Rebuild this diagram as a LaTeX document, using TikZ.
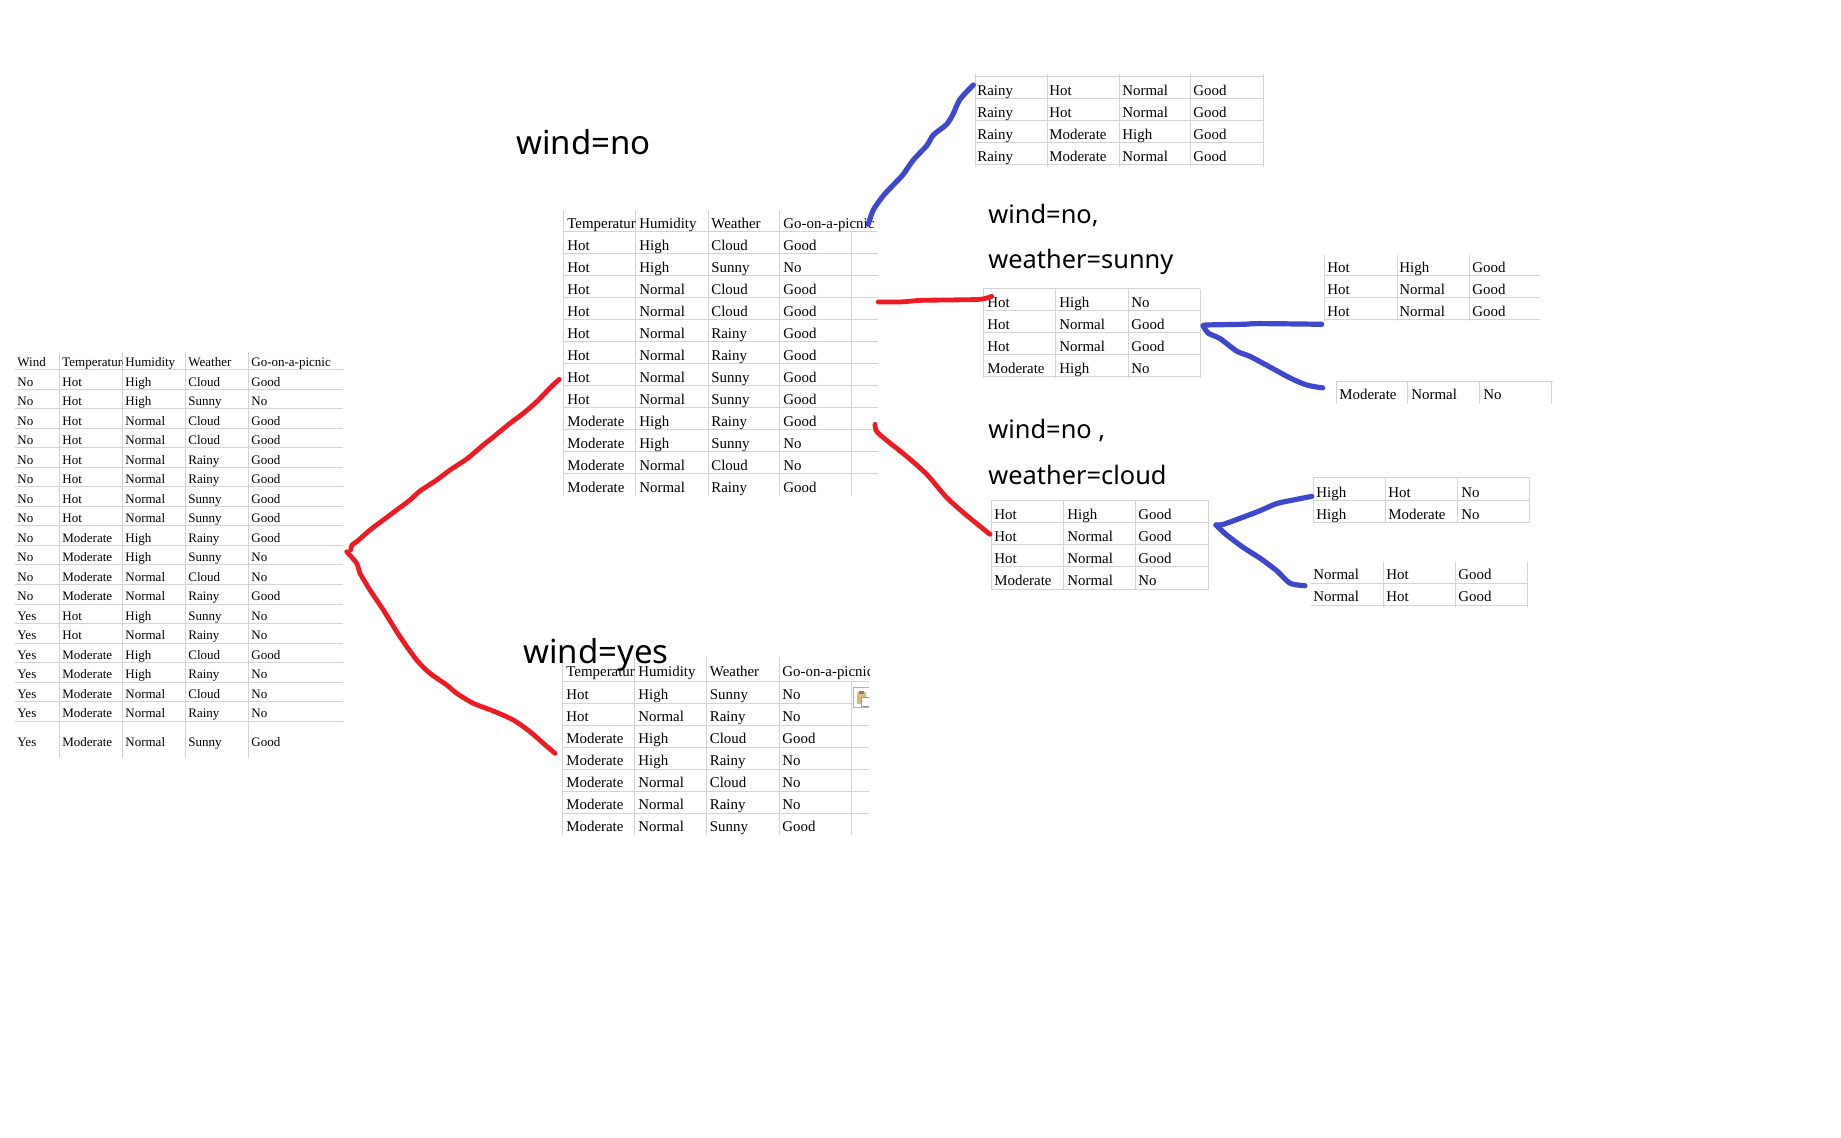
\documentclass[tikz,border=0pt]{standalone}
\usepackage{fontspec}
\setmainfont{Liberation Serif}
\newfontfamily\labfont{Noto Sans}
\definecolor{gridc}{RGB}{212,212,212}
\definecolor{penred}{RGB}{237,28,36}
\definecolor{penblue}{RGB}{63,72,204}
\definecolor{cliptan}{RGB}{222,184,120}
\begin{document}
\begin{tikzpicture}[x=0.5pt,y=-0.5pt,
  lcell/.style={anchor=base west, inner sep=0pt, font=\fontsize{6.5}{7}\selectfont},
  cell/.style={anchor=base west, inner sep=0pt, font=\fontsize{7.45}{8}\selectfont},
  biglabel/.style={anchor=base west, inner sep=0pt, font=\labfont\fontsize{16.5}{18}\selectfont},
  sublabel/.style={anchor=base west, inner sep=0pt, font=\labfont\fontsize{12.7}{15}\selectfont},
  gridline/.style={draw=gridc, line width=0.5pt},
  redpen/.style={draw=penred, line width=2.4pt, line cap=round, line join=round},
  bluepen/.style={draw=penblue, line width=2.6pt, line cap=round, line join=round}]
\useasboundingbox (0,0) rectangle (1841,1138);
\fill[white] (0,0) rectangle (1841,1138);

% ---------- left table ----------
\foreach \x in {59,122,185,248} \draw[gridline] (\x,352) -- (\x,758);
\foreach \k in {0,...,18} {\pgfmathsetmacro{\yy}{370+19.5*\k}
  \draw[gridline] (15,\yy) -- (343,\yy);}
\node[lcell] (Lh1) at (17,366.7) {Wind};
\begin{scope}\clip (59,350) rectangle (122,372);
\node[lcell] (Lh2) at (62,366.7) {Temperature};\end{scope}
\node[lcell] (Lh3) at (125,366.7) {Humidity};
\node[lcell] (Lh4) at (188,366.7) {Weather};
\node[lcell] (Lh5) at (251,366.7) {Go-on-a-picnic};
\foreach \ka/\kb/\kc/\kd/\ke [count=\r] in {
 No/Hot/High/Cloud/Good, No/Hot/High/Sunny/No, No/Hot/Normal/Cloud/Good,
 No/Hot/Normal/Cloud/Good, No/Hot/Normal/Rainy/Good, No/Hot/Normal/Rainy/Good,
 No/Hot/Normal/Sunny/Good, No/Hot/Normal/Sunny/Good, No/Moderate/High/Rainy/Good,
 No/Moderate/High/Sunny/No, No/Moderate/Normal/Cloud/No, No/Moderate/Normal/Rainy/Good,
 Yes/Hot/High/Sunny/No, Yes/Hot/Normal/Rainy/No, Yes/Moderate/High/Cloud/Good,
 Yes/Moderate/High/Rainy/No, Yes/Moderate/Normal/Cloud/No, Yes/Moderate/Normal/Rainy/No}{
 \pgfmathsetmacro{\yb}{370+19.5*\r-3.3}
 \node[lcell] (L\r-a) at (17,\yb) {\ka};
 \node[lcell] (L\r-b) at (62,\yb) {\kb};
 \node[lcell] (L\r-c) at (125,\yb) {\kc};
 \node[lcell] (L\r-d) at (188,\yb) {\kd};
 \node[lcell] (L\r-e) at (251,\yb) {\ke};}
\node[lcell] (L19-a) at (17,746.7) {Yes};
\node[lcell] (L19-b) at (62,746.7) {Moderate};
\node[lcell] (L19-c) at (125,746.7) {Normal};
\node[lcell] (L19-d) at (188,746.7) {Sunny};
\node[lcell] (L19-e) at (251,746.7) {Good};

% ---------- middle top table (wind=no) ----------
\foreach \x in {563,635,708,779} \draw[gridline] (\x,210) -- (\x,496);
\draw[gridline] (851,232) -- (851,496);
\foreach \k in {0,...,11} {\pgfmathsetmacro{\yy}{232+22*\k}
  \draw[gridline] (563,\yy) -- (878,\yy);}
\begin{scope}\clip (563,205) rectangle (635,234);
\node[cell] (Mh1) at (567,228.5) {Temperature};\end{scope}
\node[cell] (Mh2) at (639,228.5) {Humidity};
\node[cell] (Mh3) at (711,228.5) {Weather};
\begin{scope}\clip (779,205) rectangle (878,234);
\node[cell] (Mh4) at (783,228.5) {Go-on-a-picnic};\end{scope}
\foreach \ka/\kb/\kc/\kd [count=\r] in {
 Hot/High/Cloud/Good, Hot/High/Sunny/No, Hot/Normal/Cloud/Good, Hot/Normal/Cloud/Good,
 Hot/Normal/Rainy/Good, Hot/Normal/Rainy/Good, Hot/Normal/Sunny/Good, Hot/Normal/Sunny/Good,
 Moderate/High/Rainy/Good, Moderate/High/Sunny/No, Moderate/Normal/Cloud/No, Moderate/Normal/Rainy/Good}{
 \pgfmathsetmacro{\yb}{232+22*\r-3.5}
 \node[cell] (M\r-a) at (567,\yb) {\ka};
 \node[cell] (M\r-b) at (639,\yb) {\kb};
 \node[cell] (M\r-c) at (711,\yb) {\kc};
 \node[cell] (M\r-d) at (783,\yb) {\kd};}

% ---------- bottom table (wind=yes) ----------
\foreach \x in {562,634,706,779} \draw[gridline] (\x,657) -- (\x,835);
\draw[gridline] (851,681) -- (851,835);
\foreach \k in {0,...,6} {\pgfmathsetmacro{\yy}{681+22*\k}
  \draw[gridline] (562,\yy) -- (869,\yy);}
\begin{scope}\clip (562,650) rectangle (634,683);
\node[cell] (Bh1) at (566,676.5) {Temperature};\end{scope}
\node[cell] (Bh2) at (638,676.5) {Humidity};
\node[cell] (Bh3) at (709.5,676.5) {Weather};
\begin{scope}\clip (779,650) rectangle (869,683);
\node[cell] (Bh4) at (782,676.5) {Go-on-a-picnic};\end{scope}
\foreach \ka/\kb/\kc/\kd [count=\r] in {
 Hot/High/Sunny/No, Hot/Normal/Rainy/No, Moderate/High/Cloud/Good, Moderate/High/Rainy/No,
 Moderate/Normal/Cloud/No, Moderate/Normal/Rainy/No, Moderate/Normal/Sunny/Good}{
 \pgfmathsetmacro{\yb}{681+22*\r-3.5}
 \node[cell] (B\r-a) at (566,\yb) {\ka};
 \node[cell] (B\r-b) at (638,\yb) {\kb};
 \node[cell] (B\r-c) at (709.5,\yb) {\kc};
 \node[cell] (B\r-d) at (782,\yb) {\kd};}
% paste-options icon
\begin{scope}\clip (850,684) rectangle (869,710);
\draw[gray!60, fill=white, line width=0.5pt] (853.5,687.5) rectangle (876,707);
\fill[cliptan] (857,692) rectangle (866,704);
\fill[gray] (859,690.5) rectangle (864,693.5);
\draw[gray!80, fill=white, line width=0.5pt] (861.5,697) rectangle (872,706);
\end{scope}

% ---------- top right table (rainy) ----------
\foreach \x in {975,1047,1119,1190,1263} \draw[gridline] (\x,74) -- (\x,167);
\foreach \y in {77,99,121,143,165} \draw[gridline] (975,\y) -- (1263,\y);
\foreach \ka/\kb/\kc/\kd [count=\r] in {
 Rainy/Hot/Normal/Good, Rainy/Hot/Normal/Good, Rainy/Moderate/High/Good, Rainy/Moderate/Normal/Good}{
 \pgfmathsetmacro{\yb}{77+22*\r-3.5}
 \node[cell] (R\r-a) at (977,\yb) {\ka};
 \node[cell] (R\r-b) at (1049,\yb) {\kb};
 \node[cell] (R\r-c) at (1122,\yb) {\kc};
 \node[cell] (R\r-d) at (1193,\yb) {\kd};}

% ---------- sunny table ----------
\node[sublabel] (labS1) at (988,224) {wind=no,};
\node[sublabel] (labS2) at (988,269) {weather=sunny};
\foreach \x in {983,1055,1128,1200} \draw[gridline] (\x,289) -- (\x,378);
\foreach \y in {289,311,333,355,377} \draw[gridline] (983,\y) -- (1200,\y);
\foreach \ka/\kb/\kc [count=\r] in {Hot/High/No, Hot/Normal/Good, Hot/Normal/Good, Moderate/High/No}{
 \pgfmathsetmacro{\yb}{289+22*\r-3.5}
 \node[cell] (S\r-a) at (987,\yb) {\ka};
 \node[cell] (S\r-b) at (1059,\yb) {\kb};
 \node[cell] (S\r-c) at (1131,\yb) {\kc};}

% sunny right top
\foreach \x in {1324,1397,1469} \draw[gridline] (\x,255) -- (\x,321);
\foreach \y in {276,298,320} \draw[gridline] (1324,\y) -- (1540,\y);
\foreach \ka/\kb/\kc [count=\r] in {Hot/High/Good, Hot/Normal/Good, Hot/Normal/Good}{
 \pgfmathsetmacro{\yb}{254+22*\r-3.5}
 \node[cell] (SA\r-a) at (1327,\yb) {\ka};
 \node[cell] (SA\r-b) at (1399,\yb) {\kb};
 \node[cell] (SA\r-c) at (1472,\yb) {\kc};}
% sunny right bottom
\foreach \x in {1336,1407,1479,1551} \draw[gridline] (\x,382) -- (\x,404);
\draw[gridline] (1336,382) -- (1553,382);
\node[cell] (SB1-a) at (1339,400) {Moderate};
\node[cell] (SB1-b) at (1411,400) {Normal};
\node[cell] (SB1-c) at (1483,400) {No};

% ---------- cloud table ----------
\node[sublabel] (labC1) at (988,439) {wind=no ,};
\node[sublabel] (labC2) at (988,485) {weather=cloud};
\foreach \x in {991,1063,1135,1208} \draw[gridline] (\x,500) -- (\x,590);
\foreach \y in {501,523,545,567,589} \draw[gridline] (991,\y) -- (1208,\y);
\foreach \ka/\kb/\kc [count=\r] in {Hot/High/Good, Hot/Normal/Good, Hot/Normal/Good, Moderate/Normal/No}{
 \pgfmathsetmacro{\yb}{501+22*\r-3.5}
 \node[cell] (C\r-a) at (994,\yb) {\ka};
 \node[cell] (C\r-b) at (1067,\yb) {\kb};
 \node[cell] (C\r-c) at (1138,\yb) {\kc};}
% cloud right top
\foreach \x in {1313,1385,1457,1529} \draw[gridline] (\x,477) -- (\x,523);
\foreach \y in {478,501,523} \draw[gridline] (1313,\y) -- (1529,\y);
\foreach \ka/\kb/\kc [count=\r] in {High/Hot/No, High/Moderate/No}{
 \pgfmathsetmacro{\yb}{479+22*\r-3.5}
 \node[cell] (CA\r-a) at (1316,\yb) {\ka};
 \node[cell] (CA\r-b) at (1388,\yb) {\kb};
 \node[cell] (CA\r-c) at (1461,\yb) {\kc};}
% cloud right bottom
\foreach \x in {1383,1455,1527} \draw[gridline] (\x,562) -- (\x,607);
\foreach \y in {583,605} \draw[gridline] (1311,\y) -- (1527,\y);
\foreach \ka/\kb/\kc [count=\r] in {Normal/Hot/Good, Normal/Hot/Good}{
 \pgfmathsetmacro{\yb}{561+22*\r-3.5}
 \node[cell] (CB\r-a) at (1313,\yb) {\ka};
 \node[cell] (CB\r-b) at (1386,\yb) {\kb};
 \node[cell] (CB\r-c) at (1458,\yb) {\kc};}

% ---------- big labels ----------
\node[biglabel] (labNo) at (516,155) {wind=no};
\node[biglabel] (labYes) at (523,663) {wind=yes};

% ---------- hand-drawn connectors ----------
\coordinate (rAs) at (350.7,550);   \coordinate (rAe) at (559.3,379.3);
\coordinate (rBs) at (346.7,551.7); \coordinate (rBe) at (555,753.3);
\coordinate (rCs) at (878.3,302);   \coordinate (rCe) at (991.7,296.4);
\coordinate (rDs) at (875,424.3);   \coordinate (rDe) at (990,534.3);
\coordinate (bAs) at (868.3,224.3); \coordinate (bAe) at (973.3,85);
\coordinate (bSs) at (1203.3,326);  \coordinate (bBe) at (1321.7,324.3); \coordinate (bCe) at (1322.7,387.9);
\coordinate (bKs) at (1216,525);    \coordinate (bDe) at (1311.7,496.4); \coordinate (bEe) at (1305,585.7);

\draw[redpen] plot[smooth, tension=0.45] coordinates {(rAs) (352,545) (356.7,541.7) (370,530) (383.3,520) (396.7,510) (410,500) (420,491) (436.7,480) (450,470) (466.7,459) (483.3,445) (493.3,437) (510,423.3) (523.3,413.3) (536.7,401.7) (550,388) (rAe)};
\draw[redpen] plot[smooth, tension=0.45] coordinates {(rBs) (356.7,563.3) (360,573.3) (370,590) (383.3,610) (400,636.7) (416.7,660) (430,673.3) (446.7,685) (456.7,693.3) (473.3,703.3) (493.3,711) (513.3,720) (530,731.7) (543.3,743.3) (rBe)};
\draw[redpen] plot[smooth, tension=0.5] coordinates {(rCs) (900,302) (920,300.4) (946.7,300) (980,299.3) (rCe)};
\draw[redpen] plot[smooth, tension=0.5] coordinates {(rDs) (876.7,431.4) (886.7,440.4) (906.7,456.4) (926.7,474.3) (946.7,497.5) (966.7,515.4) (rDe)};
\draw[bluepen] plot[smooth, tension=0.45] coordinates {(bAs) (873.3,210) (883.3,195.7) (895,183.2) (903.3,174.3) (913.3,160) (926.7,145.7) (933.3,135) (946.7,124.3) (953.3,113.6) (960,99.3) (bAe)};
\draw[bluepen] plot[smooth, tension=0.5] coordinates {(bSs) (1206.7,325) (1243.3,324.3) (1260,323.6) (bBe)};
\draw[bluepen] plot[smooth, tension=0.5] coordinates {(bSs) (1208.3,333.2) (1220,338.6) (1236.7,351.1) (1250,356.4) (1270,367.1) (1290,377.9) (1306.7,385) (bCe)};
\draw[bluepen] plot[smooth, tension=0.5] coordinates {(bKs) (1223.3,524.3) (1243.3,517.1) (1260,510.7) (1276.7,503.6) (1293.3,500) (bDe)};
\draw[bluepen] plot[smooth, tension=0.5] coordinates {(bKs) (1226.7,535) (1243.3,547.5) (1260,558.2) (1276.7,570.7) (1290,583.2) (bEe)};
\end{tikzpicture}
\end{document}
